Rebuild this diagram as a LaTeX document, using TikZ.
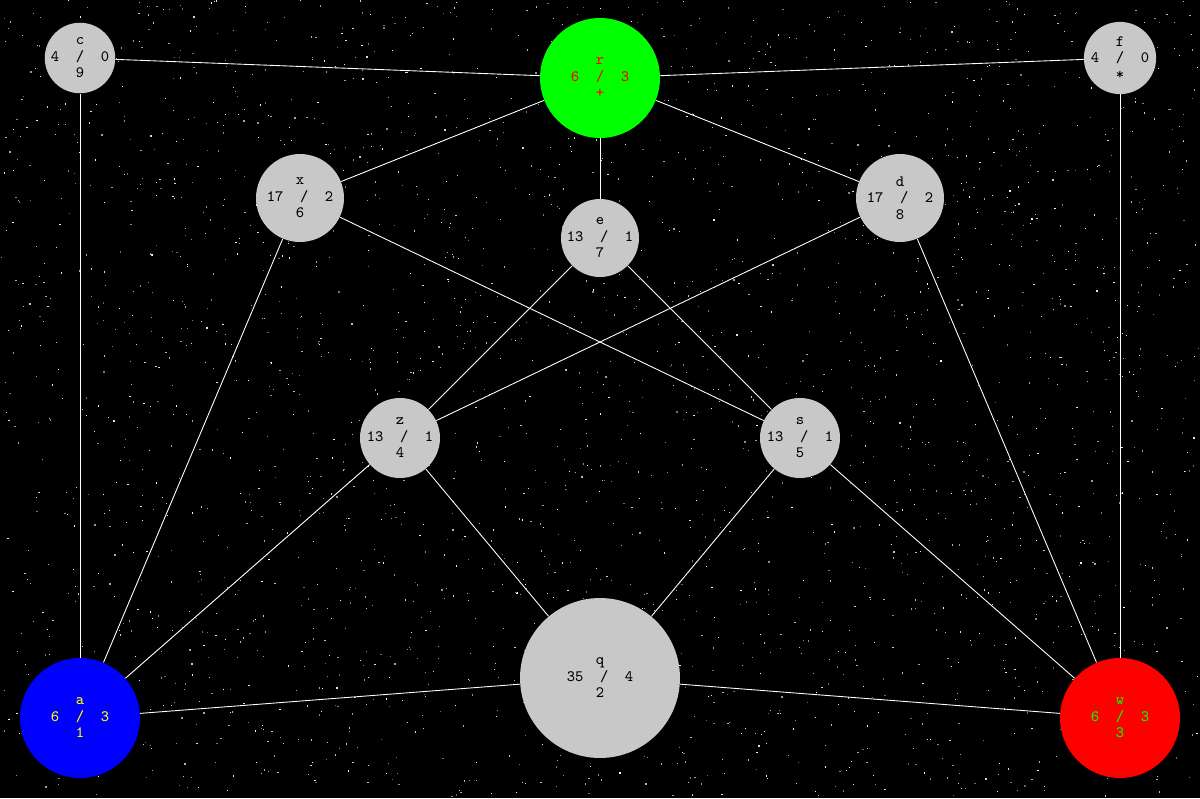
\documentclass[tikz,border=0pt]{standalone}
\usetikzlibrary{positioning}
\definecolor{vgray}{RGB}{200,200,200}
\definecolor{vgreen}{RGB}{0,255,0}
\definecolor{vred}{RGB}{255,0,0}
\definecolor{vblue}{RGB}{0,0,255}
\definecolor{vyellow}{RGB}{255,255,0}

\begin{document}
\begin{tikzpicture}[x=0.02cm, y=-0.02cm,
  vert/.style={circle, inner sep=0pt, fill=vgray, text=black, align=center,
    font=\ttfamily\fontsize{9}{9.4}\selectfont},
  edge/.style={white, line width=0.5pt}]
  % night sky
  \fill[black] (0,0) rectangle (1200,798);
  \useasboundingbox (0,0) rectangle (1200,798);
  \pgfmathsetseed{4711}
  \foreach \k in {1,...,2600}{
    \pgfmathsetmacro{\sx}{rnd*1198}
    \pgfmathsetmacro{\sy}{rnd*796}
    \pgfmathsetmacro{\sg}{40+60*rnd}
    \fill[white!\sg!black] (\sx,\sy) rectangle ++(1.2,1.2);
  }
  % vertices
  \node[vert, minimum size=1.4cm] (c) at (80,58) {c\\4\ \ /\ \ 0\\9};
  \node[vert, minimum size=2.4cm, fill=vgreen, text=vred] (r) at (600,78) {r\\6\ \ /\ \ 3\\+};
  \node[vert, minimum size=1.4cm] (f) at (1120,58) {f\\4\ \ /\ \ 0\\*};
  \node[vert, minimum size=1.76cm] (x) at (300,198) {x\\17\ \ /\ \ 2\\6};
  \node[vert, minimum size=1.56cm] (e) at (600,238) {e\\13\ \ /\ \ 1\\7};
  \node[vert, minimum size=1.76cm] (d) at (900,198) {d\\17\ \ /\ \ 2\\8};
  \node[vert, minimum size=1.6cm] (z) at (400,438) {z\\13\ \ /\ \ 1\\4};
  \node[vert, minimum size=1.6cm] (s) at (800,438) {s\\13\ \ /\ \ 1\\5};
  \node[vert, minimum size=3.2cm] (q) at (600,678) {q\\35\ \ /\ \ 4\\2};
  \node[vert, minimum size=2.4cm, fill=vblue, text=vyellow] (a) at (80,718) {a\\6\ \ /\ \ 3\\1};
  \node[vert, minimum size=2.4cm, fill=vred, text=vgreen] (w) at (1120,718) {w\\6\ \ /\ \ 3\\3};
  % edges
  \foreach \u/\v in {c/r, r/f, c/a, f/w, r/x, r/e, r/d, x/a, x/s, e/z, e/s,
                     d/z, d/w, z/a, z/q, s/q, s/w, a/q, q/w}
    \draw[edge] (\u) -- (\v);
\end{tikzpicture}
\end{document}
